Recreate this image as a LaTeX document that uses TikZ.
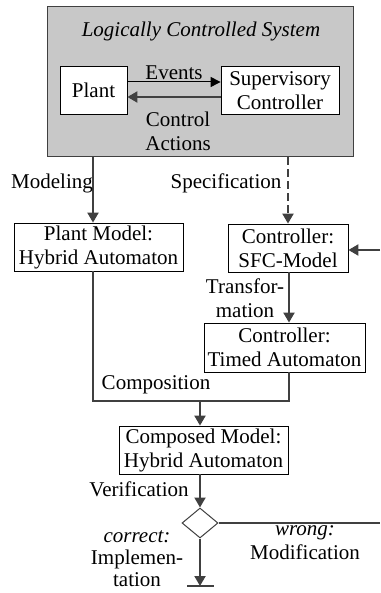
\documentclass[tikz,border=0pt]{standalone}
\usepackage{fontspec}
\setmainfont{Liberation Serif}
\usetikzlibrary{arrows.meta,shapes.geometric}
\definecolor{sysgray}{RGB}{200,200,200}
\definecolor{linegray}{RGB}{64,64,64}
\begin{document}
\begin{tikzpicture}[x=1pt,y=-1pt,
  every node/.style={font=\fontsize{21}{24}\selectfont, inner sep=0pt},
  box/.style={draw=black, line width=0.8pt, fill=white, align=center},
  lbl/.style={align=center},
  flow/.style={draw=linegray, line width=2pt, -{Triangle[length=10pt,width=11pt]}},
  plain/.style={draw=linegray, line width=2pt},
  thinarr/.style={draw=black, line width=1pt, -{Triangle[length=10pt,width=10pt]}}]
\useasboundingbox (0,0) rectangle (380,593);
% system box
\node[draw=linegray, line width=1pt, fill=sysgray, minimum width=306pt, minimum height=150pt] (sys) at (200,82) {};
\node[font=\fontsize{21}{24}\selectfont\itshape] (title) at (201,31) {Logically Controlled System};
\node[box, minimum width=67pt, minimum height=48pt] (plant) at (93.5,90) {Plant};
\node[box, minimum width=118pt, minimum height=48pt] (sup) at (280,90.5) {Supervisory\\Controller};
\coordinate (ev) at (0,82);
\coordinate (ca) at (0,97);
\draw[thinarr] (plant.east |- ev) -- (sup.west |- ev);
\draw[flow] (sup.west |- ca) -- (plant.east |- ca);
\node[lbl] (events) at (174,73) {Events};
\node[lbl] (actions) at (178,131) {Control\\Actions};
% models
\node[box, minimum width=169pt, minimum height=48pt] (pm) at (98.5,247) {Plant Model:\\Hybrid Automaton};
\node[box, minimum width=120pt, minimum height=48pt] (sfc) at (288,248) {Controller:\\SFC-Model};
\node[box, minimum width=161pt, minimum height=49pt] (ta) at (284.5,347.5) {Controller:\\Timed Automaton};
\node[box, minimum width=169pt, minimum height=48pt] (cm) at (203.5,450) {Composed Model:\\Hybrid Automaton};
\coordinate (mx) at (93,0);
\coordinate (tx) at (289,0);
\coordinate (j) at (200,401);
\coordinate (rin) at (380,250);
\draw[flow] (sys.south -| mx) -- (pm.north -| mx);
\draw[flow, dash pattern=on 8pt off 4pt] (sys.south -| sfc.north) -- (sfc.north);
\draw[flow] (rin) -- (sfc.east |- rin);
\draw[flow] (sfc.south -| tx) -- (ta.north -| tx);
\draw[plain] (pm.south -| mx) -- (mx |- j) -- (j -| tx) -- (ta.south -| tx);
\draw[flow] (j) -- (cm.north -| j);
\node[lbl] (modeling) at (52,183) {Modeling};
\node[lbl] (spec) at (226,183) {Specification};
\node[lbl] (transf) at (245,298) {Transfor-\\mation};
\node[lbl] (compo) at (156,385) {Composition};
% decision
\node[draw=linegray, line width=1pt, fill=white, shape=diamond, minimum width=36pt, minimum height=30pt] (d) at (200,523) {};
\draw[flow] (cm.south -| j) -- (d.north);
\node[lbl] (verif) at (139,489) {Verification};
\coordinate (rout) at (380,0);
\draw[plain] (d.east) -- (d.east -| rout);
\coordinate (bar) at (200,586);
\draw[flow] (d.south) -- (bar);
\draw[plain] ([xshift=-13pt]bar) -- ([xshift=14pt]bar);
\node[lbl, font=\fontsize{21}{22}\selectfont] (correct) at (137,559) {\textit{correct:}\\Implemen-\\tation};
\node[lbl] (wrong) at (305,543) {\textit{wrong:}\\Modification};
\end{tikzpicture}
\end{document}
